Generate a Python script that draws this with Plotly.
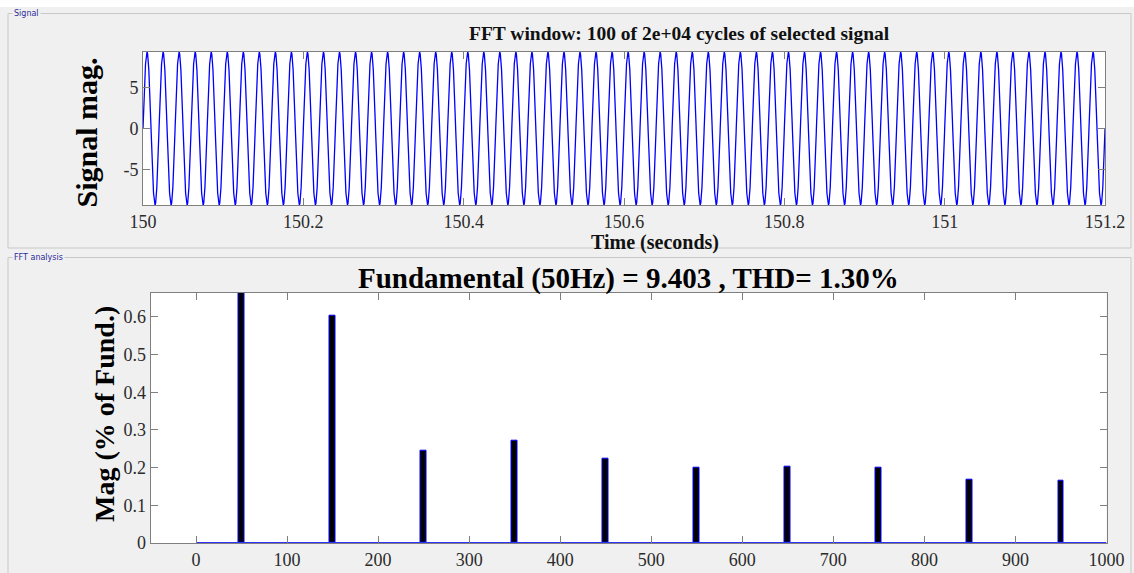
import numpy as np
import plotly.graph_objects as go

# ---- data ----
fund_freq = 50.0          # Hz
fund_mag = 9.403          # peak magnitude of fundamental
t_start, t_end = 150.0, 151.2
sample_time = 1e-4

harm_freqs = [50, 150, 250, 350, 450, 550, 650, 750, 850, 950]
harm_pct = [100.0, 0.602, 0.246, 0.271, 0.224, 0.199, 0.203, 0.199, 0.169, 0.164]

spec_fmin, spec_fmax = 0, 1000

x_ticks_top = [150, 150.2, 150.4, 150.6, 150.8, 151, 151.2]
y_ticks_top = [-5, 0, 5]
x_ticks_bot = list(range(0, 1001, 100))
y_ticks_bot = [0, 0.1, 0.2, 0.3, 0.4, 0.5, 0.6]

# time-domain signal synthesised from the harmonic spectrum
t = np.arange(t_start, t_end + sample_time / 2, sample_time)
sig = np.zeros_like(t)
for f, p in zip(harm_freqs, harm_pct):
    sig += fund_mag * p / 100.0 * np.sin(2 * np.pi * f * (t - t_start))

W, H = 1134, 573
BG = "#f0f0f0"
AX = "#7f7f7f"
TXT = "#2b2b2b"
SERIF = "Liberation Serif"


def px_x(x):
    return x / W


def px_y(y):
    return 1 - y / H


def fmt(v):
    # plain hyphen for negatives, like the original tool's tick labels
    return f"{v:g}"


fig = go.Figure()

fig.add_trace(go.Scatter(x=t, y=sig, mode="lines",
                         line=dict(color="#0000ff", width=1.3),
                         xaxis="x", yaxis="y", showlegend=False))

fig.add_trace(go.Bar(x=harm_freqs, y=harm_pct, width=6.5,
                     marker=dict(color="#000000",
                                 line=dict(color="#0000ff", width=1)),
                     xaxis="x2", yaxis="y2", showlegend=False))
fig.add_trace(go.Scatter(x=[spec_fmin, spec_fmax], y=[0, 0], mode="lines",
                         line=dict(color="#3030ff", width=2),
                         xaxis="x2", yaxis="y2", showlegend=False))

axis_common = dict(showline=True, linecolor=AX, linewidth=1, mirror="ticks",
                   ticks="inside", ticklen=7, tickcolor=AX, tickwidth=1,
                   showgrid=False, zeroline=False, automargin=False,
                   tickfont=dict(family=SERIF, size=18, color=TXT))

sig_max = float(np.max(np.abs(sig)))

fig.update_layout(
    template="none",
    width=W, height=H,
    margin=dict(l=0, r=0, t=0, b=0, pad=0),
    paper_bgcolor=BG, plot_bgcolor="white",
    xaxis=dict(domain=[px_x(143), px_x(1105)], anchor="y",
               range=[t_start, t_end], tickvals=x_ticks_top,
               ticktext=[fmt(v) for v in x_ticks_top], **axis_common),
    yaxis=dict(domain=[px_y(205), px_y(52)], anchor="x",
               range=[-sig_max, sig_max], tickvals=y_ticks_top,
               ticktext=[fmt(v) for v in y_ticks_top], **axis_common),
    xaxis2=dict(domain=[px_x(150.5), px_x(1106.5)], anchor="y2",
                range=[-50, 1000], tickvals=x_ticks_bot,
                ticktext=[fmt(v) for v in x_ticks_bot], **axis_common),
    yaxis2=dict(domain=[px_y(543), px_y(292.7)], anchor="x2",
                range=[0, 0.664], tickvals=y_ticks_bot,
                ticktext=[fmt(v) for v in y_ticks_bot], **axis_common),
    bargap=0,
)

# group boxes
shapes = [
    dict(type="rect", xref="paper", yref="paper", x0=0, x1=1, y0=px_y(7), y1=1,
         fillcolor="white", line=dict(width=0), layer="below"),
    dict(type="rect", xref="paper", yref="paper",
         x0=px_x(8), x1=px_x(1131), y0=px_y(248), y1=px_y(13.5),
         line=dict(color="#c8c8c8", width=1), layer="below"),
    dict(type="rect", xref="paper", yref="paper",
         x0=px_x(8), x1=px_x(1131), y0=px_y(580), y1=px_y(257.5),
         line=dict(color="#c8c8c8", width=1), layer="below"),
]
fig.update_layout(shapes=shapes)

ann = [
    dict(text="Signal", x=px_x(12), y=px_y(14), xanchor="left", yanchor="middle",
         font=dict(family="DejaVu Sans", size=8, color="#2b2b9a"), bgcolor=BG),
    dict(text="FFT analysis", x=px_x(12), y=px_y(258), xanchor="left", yanchor="middle",
         font=dict(family="DejaVu Sans", size=8, color="#2b2b9a"), bgcolor=BG),
    dict(text="<b>FFT window: 100 of 2e+04 cycles of selected signal</b>",
         x=px_x(679), y=px_y(33), xanchor="center", yanchor="middle",
         font=dict(family=SERIF, size=19.5, color="#111111")),
    dict(text="<b>Time (seconds)</b>", x=px_x(655), y=px_y(242.5),
         xanchor="center", yanchor="middle",
         font=dict(family=SERIF, size=20, color="#111111")),
    dict(text="<b>Signal mag.</b>", x=px_x(86), y=px_y(132.5), textangle=-90,
         xanchor="center", yanchor="middle",
         font=dict(family=SERIF, size=30, color="#000000")),
    dict(text="<b>Fundamental (50Hz) = 9.403 , THD= 1.30%</b>",
         x=px_x(628), y=px_y(278), xanchor="center", yanchor="middle",
         font=dict(family=SERIF, size=29, color="#000000")),
    dict(text="<b>Mag (% of Fund.)</b>", x=px_x(104), y=px_y(414), textangle=-90,
         xanchor="center", yanchor="middle",
         font=dict(family=SERIF, size=28, color="#000000")),
]
for a in ann:
    a.update(xref="paper", yref="paper", showarrow=False)
fig.update_layout(annotations=ann)

fig.write_html("out.html")
